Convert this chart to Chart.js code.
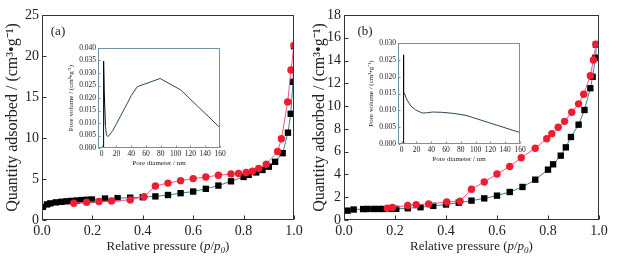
<!DOCTYPE html>
<html>
<head>
<meta charset="utf-8">
<script src="https://cdn.jsdelivr.net/npm/chart.js@4.4.0/dist/chart.umd.min.js"></script>
<style>
  body { margin: 0; background: #fff; }
  #wrap { position: relative; width: 627px; height: 258px; overflow: hidden; }
  canvas { position: absolute; }
</style>
</head>
<body>
<div id="wrap">
  <canvas id="mainA" width="307" height="258" style="left:0;top:0"></canvas>
  <canvas id="mainB" width="320" height="258" style="left:307px;top:0"></canvas>
  <canvas id="insetA" width="163" height="129" style="left:65px;top:40px"></canvas>
  <canvas id="insetB" width="163" height="130" style="left:365px;top:35px"></canvas>
</div>
<script>
// panel (a) isotherm
var adsPA = [0.004, 0.02, 0.033, 0.055, 0.077, 0.097, 0.117, 0.138, 0.158, 0.178, 0.198, 0.25, 0.30, 0.35, 0.40, 0.45, 0.50, 0.55, 0.60, 0.65, 0.70, 0.75, 0.80, 0.82, 0.85, 0.875, 0.90, 0.925, 0.955, 0.976, 0.987, 0.996, 1.0];
var adsQA = [1.6, 1.9, 2.03, 2.15, 2.22, 2.28, 2.33, 2.38, 2.43, 2.47, 2.5, 2.62, 2.67, 2.72, 2.78, 2.88, 3.05, 3.27, 3.47, 3.8, 4.2, 4.72, 5.25, 5.5, 5.8, 6.1, 6.5, 7.1, 8.15, 10.65, 12.95, 16.85, 21.2];
var desPA = [0.126, 0.177, 0.226, 0.276, 0.35, 0.405, 0.45, 0.50, 0.55, 0.60, 0.65, 0.70, 0.75, 0.78, 0.81, 0.835, 0.86, 0.89, 0.935, 0.95, 0.975, 0.988, 1.0];
var desQA = [2.05, 2.17, 2.25, 2.33, 2.45, 2.85, 4.15, 4.5, 4.8, 5.05, 5.25, 5.45, 5.62, 5.67, 5.8, 5.95, 6.3, 6.8, 8.35, 9.9, 14.4, 18.3, 21.3];

// panel (b) isotherm
var adsPB = [0.014, 0.038, 0.075, 0.09, 0.115, 0.135, 0.155, 0.185, 0.205, 0.25, 0.30, 0.35, 0.40, 0.45, 0.50, 0.55, 0.60, 0.65, 0.70, 0.75, 0.80, 0.82, 0.85, 0.87, 0.89, 0.92, 0.943, 0.966, 0.975, 0.986, 0.988];
var adsQB = [0.82, 0.92, 0.96, 0.97, 0.97, 0.97, 0.97, 0.98, 0.98, 1.03, 1.12, 1.24, 1.36, 1.52, 1.7, 1.9, 2.14, 2.46, 2.9, 3.54, 4.42, 4.89, 5.65, 6.38, 7.29, 8.37, 9.66, 11.57, 12.57, 14.25, 15.4];
var desPB = [0.17, 0.19, 0.25, 0.283, 0.332, 0.403, 0.455, 0.50, 0.55, 0.60, 0.65, 0.695, 0.75, 0.795, 0.815, 0.84, 0.865, 0.893, 0.92, 0.94, 0.966, 0.978, 0.988];
var desQB = [1.03, 1.1, 1.27, 1.34, 1.41, 1.58, 1.65, 2.7, 3.34, 4.04, 4.7, 5.47, 6.3, 7.14, 7.58, 8.14, 8.66, 9.46, 10.2, 11.04, 12.67, 14.05, 15.43];

// insets: pore size distribution
var poreDA = [1.8, 2.6, 3.5, 5.0, 6.5, 8.0, 10, 15, 20, 25, 30, 35, 40, 48, 79, 107, 160];
var poreVA = [0, 0.0348, 0.022, 0.009, 0.0052, 0.0046, 0.0050, 0.0070, 0.0097, 0.0125, 0.0153, 0.0181, 0.0210, 0.0245, 0.0278, 0.0232, 0.0081];
var poreDB = [1.9, 2.2, 3.0, 4.0, 5.5, 8, 12.3, 19, 28, 35, 42, 55, 70, 87, 160];
var poreVB = [0, 0.0265, 0.0147, 0.0150, 0.0139, 0.0128, 0.0113, 0.0101, 0.0092, 0.0093, 0.0095, 0.0094, 0.0091, 0.0085, 0.0034];

// tick labels
var pTicks = [0, 0.2, 0.4, 0.6, 0.8, 1.0];
var qTicksA = [0, 5, 10, 15, 20, 25];
var qTicksB = [0, 2, 4, 6, 8, 10, 12, 14, 16, 18];
var dTicks = [0, 20, 40, 60, 80, 100, 120, 140, 160];
var vTicksA = [0, 0.005, 0.010, 0.015, 0.020, 0.025, 0.030, 0.035, 0.040];
var vTicksB = [0, 0.005, 0.010, 0.015, 0.020, 0.025, 0.030];

var SERIF = "'Liberation Serif', 'Times New Roman', serif";
Chart.defaults.font.family = SERIF;
Chart.defaults.color = '#222';

function pts(xs, ys) {
  return xs.map(function (x, i) { return { x: x, y: ys[i] }; });
}

function fixed(list) {
  return function (s) { s.ticks = list.map(function (v) { return { value: v }; }); };
}

// x title with italic p/p0: [text, style, size, baseline shift]
var xTitleParts = [
  ['Relative pressure (', 'normal', 13, 0],
  ['p', 'italic', 13, 0],
  ['/', 'normal', 13, 0],
  ['p', 'italic', 13, 0],
  ['0', 'italic', 9, 3],
  [')', 'normal', 13, 0]
];

// frame round the plot area with inward tick marks, plus panel letter
var boxTicks = {
  id: 'boxTicks',
  afterDraw: function (chart, args, o) {
    var c = chart.ctx, a = chart.chartArea, sx = chart.scales.x, sy = chart.scales.y;
    var l = Math.round(a.left) + 0.5, r = Math.round(a.right) - 0.5;
    var t = Math.round(a.top) + 0.5, b = Math.round(a.bottom) - 0.5;
    c.save();
    c.strokeStyle = o.color;
    c.lineWidth = 1;
    c.strokeRect(l, t, r - l, b - t);
    c.beginPath();
    sx.ticks.forEach(function (tk) {
      var p = Math.round(sx.getPixelForValue(tk.value)) + 0.5;
      c.moveTo(p, b); c.lineTo(p, b - o.len);
    });
    sy.ticks.forEach(function (tk) {
      var p = Math.round(sy.getPixelForValue(tk.value)) + 0.5;
      c.moveTo(l, p); c.lineTo(l + o.len, p);
    });
    c.stroke();
    c.fillStyle = '#222';
    if (o.label) {
      c.font = '13px ' + SERIF;
      c.textAlign = 'center';
      c.textBaseline = 'middle';
      c.fillText(o.label, a.left + o.lx, a.top + o.ly);
    }
    if (o.richX) {
      c.textAlign = 'left';
      c.textBaseline = 'alphabetic';
      var w = 0;
      xTitleParts.forEach(function (pt) {
        c.font = pt[1] + ' ' + pt[2] + 'px ' + SERIF;
        w += c.measureText(pt[0]).width;
      });
      var x = (a.left + a.right) / 2 - w / 2, y = o.richY;
      xTitleParts.forEach(function (pt) {
        c.font = pt[1] + ' ' + pt[2] + 'px ' + SERIF;
        c.fillText(pt[0], x, y + pt[3]);
        x += c.measureText(pt[0]).width;
      });
    }
    c.restore();
  }
};

function mainChart(id, ads, des, qMax, qTicks, yw, padR, label, lx) {
  return new Chart(document.getElementById(id), {
    type: 'scatter',
    data: {
      datasets: [{
        label: 'desorption',
        data: des,
        showLine: true,
        borderColor: '#f5518d',
        borderWidth: 1,
        backgroundColor: '#ee1d30',
        pointBorderColor: '#ee1d30',
        pointRadius: 3.7,
        pointBorderWidth: 0
      }, {
        label: 'adsorption',
        data: ads,
        showLine: true,
        borderColor: '#2f8595',
        borderWidth: 1,
        backgroundColor: '#000',
        pointBorderColor: '#000',
        pointStyle: 'rect',
        pointRadius: 4.5,
        pointBorderWidth: 0
      }]
    },
    options: {
      responsive: false,
      animation: false,
      devicePixelRatio: 1,
      layout: { padding: { left: 0, top: 15, right: padR, bottom: 0 } },
      plugins: {
        legend: { display: false },
        tooltip: { enabled: false },
        boxTicks: { color: '#333', len: 4, label: label, lx: lx, ly: 17, richX: true, richY: 250 }
      },
      scales: {
        x: {
          type: 'linear', min: 0, max: 1,
          grid: { display: false, drawTicks: false },
          border: { display: false },
          afterBuildTicks: fixed(pTicks),
          ticks: { padding: 3, font: { size: 14 }, maxRotation: 0, autoSkip: false,
                   callback: function (v) { return v.toFixed(1); } },
          title: { display: false, text: 'Relative pressure (p/p\u2080)' },
          afterFit: function (s) { s.height = 38; }
        },
        y: {
          min: 0, max: qMax,
          grid: { display: false, drawTicks: false },
          border: { display: false },
          afterBuildTicks: fixed(qTicks),
          ticks: { padding: 3, font: { size: 14 }, autoSkip: false },
          title: { display: true, text: 'Quantity adsorbed / (cm\u00b3\u2022g\u207b\u00b9)', font: { size: 16 },
                   padding: { top: 3, bottom: 0 } },
          afterFit: function (s) { s.width = yw; }
        }
      }
    },
    plugins: [boxTicks]
  });
}

function insetChart(id, pore, vMax, vTicks) {
  return new Chart(document.getElementById(id), {
    type: 'scatter',
    data: {
      datasets: [{
        label: 'pore volume',
        data: pore,
        showLine: true,
        borderColor: '#2b4756',
        borderWidth: 1,
        pointRadius: 0,
        segment: {
          borderColor: function (ctx) { return ctx.p0DataIndex < 3 ? '#000' : '#2b4756'; }
        }
      }]
    },
    options: {
      responsive: false,
      animation: false,
      devicePixelRatio: 1,
      layout: { padding: { left: 0, top: 8, right: 8, bottom: 0 } },
      plugins: {
        legend: { display: false },
        tooltip: { enabled: false },
        boxTicks: { color: '#6f93a3', len: 2 }
      },
      scales: {
        x: {
          type: 'linear', min: -5, max: 160,
          grid: { display: false, drawTicks: false },
          border: { display: false },
          afterBuildTicks: fixed(dTicks),
          ticks: { padding: 2, font: { size: 7.5 }, maxRotation: 0, autoSkip: false },
          title: { display: true, text: 'Pore diameter / nm', font: { size: 7 },
                   padding: { top: 0, bottom: 2 } },
          afterFit: function (s) { s.height = 21; }
        },
        y: {
          min: 0, max: vMax,
          grid: { display: false, drawTicks: false },
          border: { display: false },
          afterBuildTicks: fixed(vTicks),
          ticks: { padding: 2, font: { size: 7.5 }, autoSkip: false,
                   callback: function (v) { return v.toFixed(3); } },
          title: { display: true, text: 'Pore volume / (cm\u00b3\u2022g\u207b\u00b9)', font: { size: 7 },
                   padding: { top: 2, bottom: 0 } },
          afterFit: function (s) { s.width = 33; }
        }
      }
    },
    plugins: [boxTicks]
  });
}

mainChart('mainA', pts(adsPA, adsQA), pts(desPA, desQA), 25, qTicksA, 42, 13, '(a)', 16);
mainChart('mainB', pts(adsPB, adsQB), pts(desPB, desQB), 18, qTicksB, 37, 28, '(b)', 21);
insetChart('insetA', pts(poreDA, poreVA), 0.040, vTicksA);
insetChart('insetB', pts(poreDB, poreVB), 0.030, vTicksB);
</script>
</body>
</html>
